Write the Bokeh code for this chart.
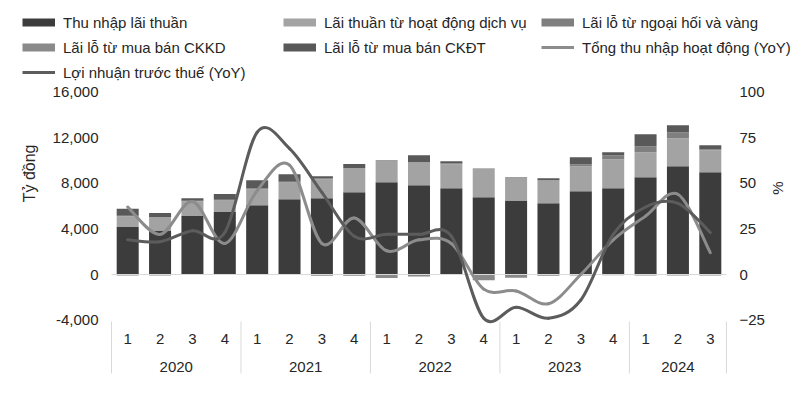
import numpy as np
from bokeh.plotting import figure
from bokeh.layouts import column, row
from bokeh.models import (Range1d, LinearAxis, FixedTicker, Legend, LegendItem,
                          NumeralTickFormatter)
from bokeh.core.properties import value
from bokeh.embed import file_html
from bokeh.resources import INLINE

# ---------------- data ----------------
quarter_labels = ["1", "2", "3", "4", "1", "2", "3", "4", "1", "2", "3", "4",
                  "1", "2", "3", "4", "1", "2", "3"]
quarter_years = ["2020"] * 4 + ["2021"] * 4 + ["2022"] * 4 + ["2023"] * 4 + ["2024"] * 3
year_labels = ["2020", "2021", "2022", "2023", "2024"]

thu_nhap_lai_thuan = [4160, 3870, 5130, 5480, 6065, 6590, 6680, 7210, 8090, 7820,
                      7560, 6770, 6500, 6240, 7300, 7560, 8530, 9490, 8970]
lai_dich_vu = [940, 1170, 1290, 1020, 1400, 1470, 1670, 2140, 1870, 2020,
               2110, 2550, 1970, 2020, 2190, 2550, 2190, 2460, 1930]
lai_ngoai_hoi = [60, 0, 60, 60, 100, 80, 80, 0, 60, 0,
                 80, 0, 60, 0, 180, 350, 530, 530, 90]
lai_ckkd = [-90, -90, -40, -40, 0, 0, -100, -100, -300, -180,
            -40, -500, -290, -120, -90, -60, -90, -90, -90]
lai_ckdt = [610, 350, 200, 500, 700, 650, 180, 350, 0, 620,
            180, 0, 0, 180, 610, 260, 1060, 620, 350]

tong_thu_nhap_yoy = [37, 22, 40, 17, 46, 60, 17, 31, 13, 19,
                     17, -8, -9, -16, 0, 19, 32, 44, 12]
loi_nhuan_yoy = [19, 18, 24, 23, 78, 69, 45, 21, 22, 22,
                 21, -24, -18, -24, -14, 22, 37, 39, 23]

left_ticks = [-4000, 0, 4000, 8000, 12000, 16000]
right_ticks = [-25, 0, 25, 50, 75, 100]

# ---------------- layout / style ----------------
FONT = "Liberation Sans"
TXT = "#262626"
PAGE_W, PAGE_H = 802, 390
LEG_H = 82                       # legend strip height (page px)
LEFT_W = 45                      # strip holding "Tỷ đồng"
RIGHT_X = 767                    # start of strip holding "%"
FRAME_L, FRAME_R, FRAME_T, FRAME_B = 101, 737, 84, 385   # page px
CAT_PX = 32.316
ZERO_Y = 274.0
VAL_PER_PX = 87.72
RATIO = 160.0   # left units per right unit

def yval(page_y):
    return (ZERO_Y - page_y) * VAL_PER_PX

def bare(fig):
    fig.grid.visible = False
    fig.outline_line_color = None
    fig.background_fill_color = "white"
    fig.border_fill_color = "white"
    return fig

n = len(quarter_labels)
pad = (111 - FRAME_L) / CAT_PX
x_start, x_end = -pad, n + pad
y_start, y_end = yval(FRAME_B), yval(FRAME_T)

main_w = RIGHT_X - LEFT_W
main_h = PAGE_H - LEG_H
p = figure(width=main_w, height=main_h, output_backend="svg", toolbar_location=None,
           x_range=Range1d(x_start, x_end), y_range=Range1d(y_start, y_end),
           x_axis_location=None,
           min_border_left=FRAME_L - LEFT_W, min_border_right=RIGHT_X - FRAME_R,
           min_border_top=FRAME_T - LEG_H, min_border_bottom=PAGE_H - FRAME_B)
bare(p)
p.extra_y_ranges = {"pct": Range1d(y_start / RATIO, y_end / RATIO)}

ya = p.yaxis[0]
ya.ticker = FixedTicker(ticks=left_ticks)
ya.formatter = NumeralTickFormatter(format="0,0")
ra = LinearAxis(y_range_name="pct", ticker=FixedTicker(ticks=right_ticks))
p.add_layout(ra, "right")
for ax in (ya, ra):
    ax.axis_line_color = None
    ax.major_tick_line_color = None
    ax.minor_tick_line_color = None
    ax.major_tick_out = 0
    ax.major_tick_in = 0
    ax.major_label_standoff = 3
    ax.major_label_text_font = FONT
    ax.major_label_text_font_size = "15px"
    ax.major_label_text_color = TXT

x = np.arange(n) + 0.5

colors = {"nii": "#3c3c3c", "dv": "#a3a3a3", "fx": "#7f7f7f",
          "ckkd": "#8a8a8a", "ckdt": "#595959"}
line_cols = {"tong": "#8c8c8c", "lnt": "#5c5c5c"}
series = [
    (thu_nhap_lai_thuan, colors["nii"]),
    (lai_dich_vu, colors["dv"]),
    (lai_ngoai_hoi, colors["fx"]),
    (lai_ckkd, colors["ckkd"]),
    (lai_ckdt, colors["ckdt"]),
]
pos_base = np.zeros(n)
neg_base = np.zeros(n)
for vals, col in series:
    v = np.array(vals, dtype=float)
    pos = np.where(v > 0, v, 0.0)
    neg = np.where(v < 0, v, 0.0)
    p.vbar(x=x, bottom=pos_base, top=pos_base + pos, width=0.68,
           fill_color=col, line_color=None)
    p.vbar(x=x, bottom=neg_base + neg, top=neg_base, width=0.68,
           fill_color=col, line_color=None)
    pos_base = pos_base + pos
    neg_base = neg_base + neg

# zero line
p.segment(x0=[0], y0=[0], x1=[n], y1=[0], line_color="#d9d9d9", line_width=1)

# smoothed YoY lines (bezier through the data points)
def smooth(vals, col):
    yv = np.array(vals, dtype=float)
    xp = np.concatenate([[x[0]], x, [x[-1]]])
    yp = np.concatenate([[yv[0]], yv, [yv[-1]]])
    i = np.arange(1, n)
    x0, y0 = xp[i], yp[i]
    x1, y1 = xp[i + 1], yp[i + 1]
    cx0 = x0 + (xp[i + 1] - xp[i - 1]) / 6
    cy0 = y0 + (yp[i + 1] - yp[i - 1]) / 6
    cx1 = x1 - (xp[i + 2] - xp[i]) / 6
    cy1 = y1 - (yp[i + 2] - yp[i]) / 6
    p.bezier(x0=x0, y0=y0, x1=x1, y1=y1, cx0=cx0, cy0=cy0, cx1=cx1, cy1=cy1,
             line_color=col, line_width=3, line_cap="round", y_range_name="pct")

smooth(tong_thu_nhap_yoy, line_cols["tong"])
smooth(loi_nhuan_yoy, line_cols["lnt"])

# category labels + separators (inside the extended frame)
p.text(x=x, y=[yval(338)] * n, text=quarter_labels, text_align="center",
       text_baseline="middle", text_font=value(FONT), text_font_size="15px",
       text_color=TXT)
counts = [quarter_years.count(yr) for yr in year_labels]
bounds = np.concatenate([[0], np.cumsum(counts)])
yr_x = (bounds[:-1] + bounds[1:]) / 2
p.text(x=yr_x, y=[yval(366)] * len(year_labels), text=year_labels, text_align="center",
       text_baseline="middle", text_font=value(FONT), text_font_size="15px",
       text_color=TXT)
p.segment(x0=bounds, y0=[yval(321)] * len(bounds), x1=bounds,
          y1=[yval(373)] * len(bounds), line_color="#d9d9d9", line_width=1)

# ---------- side strips with the axis titles ----------
def strip(x0, x1):
    f = figure(width=x1 - x0, height=main_h, output_backend="svg", toolbar_location=None,
               x_range=Range1d(x0, x1), y_range=Range1d(PAGE_H, LEG_H),
               x_axis_location=None, y_axis_location=None,
               min_border=0, min_border_left=0, min_border_right=0,
               min_border_top=0, min_border_bottom=0)
    return bare(f)

lf = strip(0, LEFT_W)
lf.text(x=[28.5], y=[173], text=["Tỷ đồng"], angle=np.pi / 2, text_align="center",
        text_baseline="middle", text_font=value(FONT), text_font_size="16px",
        text_color=TXT)
rf = strip(RIGHT_X, PAGE_W)
rf.text(x=[777], y=[188], text=["%"], angle=np.pi / 2, text_align="center",
        text_baseline="middle", text_font=value(FONT), text_font_size="15px",
        text_color=TXT)

# ---------- legend strip ----------
lg = figure(width=PAGE_W, height=LEG_H, output_backend="svg", toolbar_location=None,
            x_range=Range1d(0, 1), y_range=Range1d(0, 1),
            x_axis_location=None, y_axis_location=None,
            min_border=0, min_border_left=0, min_border_right=0,
            min_border_top=0, min_border_bottom=0)
bare(lg)

def proxy(col, lw):
    # single off-screen point: draws nothing, only feeds the legend swatch
    return lg.line(x=[5, 6], y=[5, 6], line_color=col, line_width=lw,
                   line_cap="butt")

items_cols = [
    [("Thu nhập lãi thuần", proxy(colors["nii"], 8)),
     ("Lãi lỗ từ mua bán CKKD", proxy(colors["ckkd"], 8)),
     ("Lợi nhuận trước thuế (YoY)", proxy(line_cols["lnt"], 3))],
    [("Lãi thuần từ hoạt động dịch vụ", proxy(colors["dv"], 8)),
     ("Lãi lỗ từ mua bán CKĐT", proxy(colors["ckdt"], 8))],
    [("Lãi lỗ từ ngoại hối và vàng", proxy(colors["fx"], 8)),
     ("Tổng thu nhập hoạt động (YoY)", proxy(line_cols["tong"], 3))],
]
col_left = [22, 283, 541]
ITEM_H, SPACING, TOP = 20, 5, 12
for cx, its in zip(col_left, items_cols):
    k = len(its)
    leg_h = k * ITEM_H + (k - 1) * SPACING
    leg = Legend(items=[LegendItem(label=lab, renderers=[r]) for lab, r in its],
                 location=(cx, LEG_H - (TOP + leg_h)),
                 orientation="vertical", padding=0, margin=0, spacing=SPACING,
                 glyph_width=33, glyph_height=ITEM_H, label_height=ITEM_H,
                 label_standoff=8, label_text_font=FONT, label_text_font_size="15px",
                 label_text_color=TXT, background_fill_alpha=0, border_line_alpha=0)
    lg.add_layout(leg)

layout = column(lg, row(lf, p, rf, spacing=0), spacing=0)
open("out.html", "w").write(file_html(layout, INLINE))
